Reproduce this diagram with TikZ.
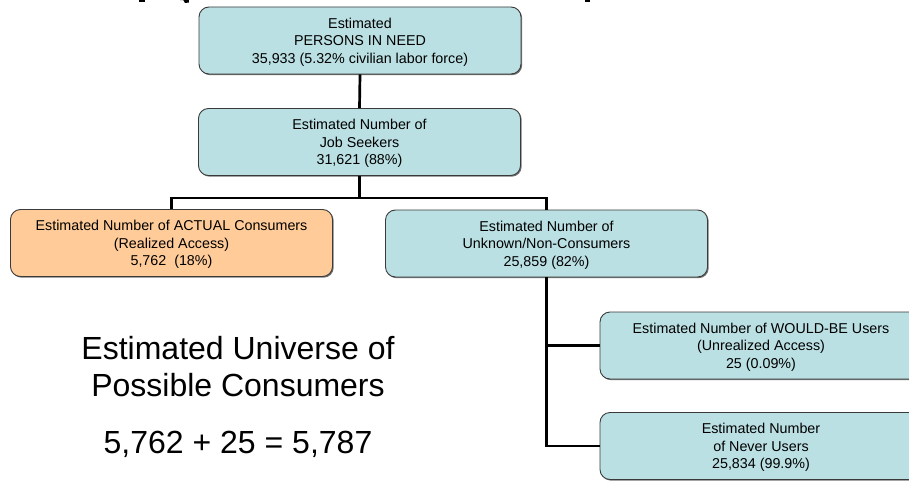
\documentclass[tikz,border=0pt]{standalone}
\usepackage{fontspec}
\setmainfont{Liberation Sans}
\usetikzlibrary{shadows}
\definecolor{boxblue}{HTML}{BBE0E3}
\definecolor{boxorange}{HTML}{FFCC99}
\definecolor{boxline}{HTML}{3A3A3A}
\tikzset{
  infobox/.style={draw=boxline, line width=0.9pt, rounded corners=10pt,
    minimum width=322pt, minimum height=67pt, align=center,
    font=\fontsize{14.3}{17.4}\selectfont, inner sep=2pt, text depth=0pt,
    execute at begin node={\rule{0pt}{18pt}},
    drop shadow={shadow xshift=1.2pt, shadow yshift=-1.2pt, fill=black!55, opacity=1}},
  bluebox/.style={infobox, fill=boxblue},
  orangebox/.style={infobox, fill=boxorange},
  link/.style={draw=black, line width=2.7pt},
  bigtext/.style={align=center, font=\fontsize{32}{37}\selectfont, inner sep=0pt}
}
\begin{document}
\begin{tikzpicture}[x=1pt, y=-1pt]
\useasboundingbox (0,0) rectangle (909,481);
\clip (0,0) rectangle (909,481);
% cropped title fragments
\fill (139,-4) rectangle (145,2.5);
\fill (181,-4) .. controls (189,-2) .. (189,2.5) -- (185,3) .. controls (184,0) .. (180,0) -- cycle;
\fill (585,-4) rectangle (590,2.5);

\node[bluebox] (need) at (360,40.5) {Estimated\\PERSONS IN NEED\\35,933 (5.32\% civilian labor force)};
\node[bluebox] (seek) at (359.5,142) {Estimated Number of\\Job Seekers\\31,621 (88\%)};
\node[orangebox] (actual) at (171.5,243) {Estimated Number of ACTUAL Consumers\\(Realized Access)\\5,762~~(18\%)};
\node[bluebox] (unknown) at (546.5,243.5) {Estimated Number of\\Unknown/Non-Consumers\\25,859 (82\%)};
\node[bluebox] (would) at (761,345.5) {Estimated Number of WOULD-BE Users\\(Unrealized Access)\\25 (0.09\%)};
\node[bluebox] (never) at (761,446) {Estimated Number\\of Never Users\\25,834 (99.9\%)};

\coordinate (split) at (359.5,198);
\draw[link] (need.south) -- (seek.north);
\draw[link] (seek.south) -- (split);
\draw[link] (actual.north) |- (split) -| (unknown.north);
\draw[link] (unknown.south) |- (would.west);
\draw[link] (unknown.south) |- (never.west);

\node[bigtext] (universe) at (238,367) {Estimated Universe of\\Possible Consumers};
\node[bigtext] (sum) at (238,444) {5,762 + 25 = 5,787};
\end{tikzpicture}
\end{document}
